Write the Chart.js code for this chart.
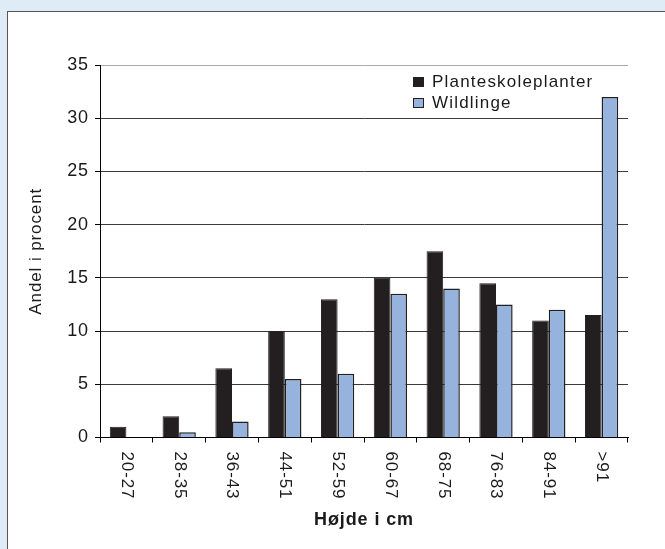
<!DOCTYPE html>
<html>
<head>
<meta charset="utf-8">
<script src="https://cdn.jsdelivr.net/npm/chart.js@4/dist/chart.umd.min.js"></script>
<style>
  html, body { margin: 0; padding: 0; overflow: hidden; background: #dfebf7; width: 665px; height: 549px; }
  #panel { position: absolute; left: 7px; top: 11px; width: 700px; height: 600px; background: #fff;
           border-left: 1px solid #555; border-top: 1px solid #555; }
  #chart { position: absolute; left: 0; top: 0; }
</style>
</head>
<body>
<div id="panel"></div>
<canvas id="chart" width="665" height="549"></canvas>
<script>
const categories = ['20-27', '28-35', '36-43', '44-51', '52-59', '60-67', '68-75', '76-83', '84-91', '>91'];
const planteskole = [1, 2, 6.5, 10, 13, 15, 17.5, 14.5, 11, 11.5];
const wildlinge = [0, 0.5, 1.5, 5.5, 6, 13.5, 14, 12.5, 12, 32];
const yTicks = [0, 5, 10, 15, 20, 25, 30, 35];

const FONT = 'Arial, "Liberation Sans", Helvetica, sans-serif';
const textColor = '#1a1a1a';
const LS = '0.9px';

// a little letter spacing, the original font is wider
const spacing = {
  id: 'spacing',
  beforeUpdate(chart) { chart.ctx.letterSpacing = LS; },
  beforeDraw(chart) { chart.ctx.letterSpacing = LS; }
};

// x labels read top to bottom (rotated clockwise), and the legend inside the plot
const extras = {
  id: 'extras',
  afterDraw(chart) {
    const ctx = chart.ctx;
    const x = chart.scales.x;
    ctx.save();
    ctx.letterSpacing = LS;
    ctx.fillStyle = textColor;
    ctx.font = '17px ' + FONT;
    ctx.textAlign = 'left';
    ctx.textBaseline = 'middle';
    categories.forEach((lab, i) => {
      ctx.save();
      ctx.translate(x.getPixelForValue(i), x.top + 14);
      ctx.rotate(Math.PI / 2);
      ctx.fillText(lab, 0, 0);
      ctx.restore();
    });

    // legend
    const lx = 413, ly = 82;
    ctx.letterSpacing = '1.2px';
    chart.data.datasets.forEach((ds, i) => {
      const y = ly + i * 21;
      ctx.fillStyle = ds.backgroundColor;
      ctx.strokeStyle = '#231f20';
      ctx.lineWidth = 1;
      ctx.fillRect(lx, y - 5, 11, 10);
      ctx.strokeRect(lx + 0.5, y - 4.5, 10, 9);
      ctx.fillStyle = textColor;
      ctx.fillText(ds.label, lx + 19, y);
    });
    ctx.restore();
  }
};

new Chart(document.getElementById('chart'), {
  type: 'bar',
  data: {
    labels: categories,
    datasets: [
      {
        label: 'Planteskoleplanter',
        data: planteskole,
        backgroundColor: '#231f20',
        borderColor: '#231f20',
        borderWidth: 1,
        categoryPercentage: 0.63,
        barPercentage: 1
      },
      {
        label: 'Wildlinge',
        data: wildlinge,
        backgroundColor: '#95b3dc',
        borderColor: '#231f20',
        borderWidth: 1.5,
        categoryPercentage: 0.63,
        barPercentage: 1
      }
    ]
  },
  options: {
    responsive: false,
    animation: false,
    devicePixelRatio: 1,
    layout: { padding: { top: 65, right: 37, left: 0, bottom: 0 } },
    plugins: {
      legend: { display: false },
      tooltip: { enabled: false }
    },
    scales: {
      x: {
        grid: {
          offset: true,
          color: c => (c.index === categories.length ? '#aaa' : 'transparent'),
          tickColor: '#000',
          tickLength: 5,
          lineWidth: 1
        },
        border: { color: '#000', width: 1 },
        ticks: { display: false },
        title: {
          display: true,
          text: 'Højde i cm',
          color: textColor,
          font: { family: FONT, size: 18, weight: 'bold' },
          padding: { top: 0, bottom: 18 }
        },
        afterFit: s => { s.height = 111.5; }
      },
      y: {
        min: 0,
        max: 35,
        afterBuildTicks: s => { s.ticks = yTicks.map(v => ({ value: v })); },
        grid: {
          color: c => (c.tick && c.tick.value === 35 ? '#aaa' : '#3a3a3a'),
          tickColor: '#000',
          tickLength: 5
        },
        border: { color: '#000', width: 1 },
        ticks: {
          color: textColor,
          font: { family: FONT, size: 18 },
          padding: 6
        },
        title: {
          display: true,
          text: 'Andel i procent',
          color: textColor,
          font: { family: FONT, size: 17 },
          padding: { top: 26, bottom: 0 }
        },
        afterFit: s => { s.width = 100; }
      }
    }
  },
  plugins: [spacing, extras]
});
</script>
</body>
</html>
